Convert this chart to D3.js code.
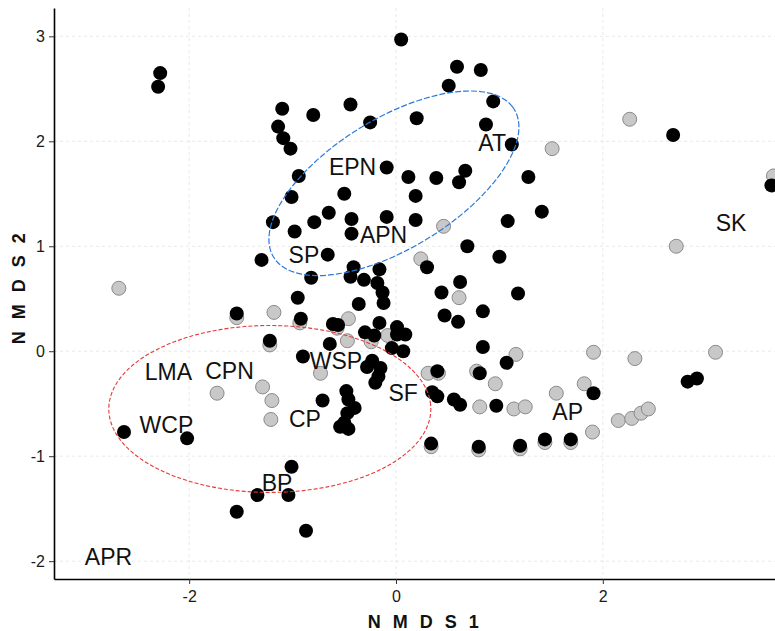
<!DOCTYPE html>
<html>
<head>
<meta charset="utf-8">
<script src="https://d3js.org/d3.v7.min.js"></script>
<style>
  body { margin: 0; background: #fff; }
  svg { display: block; font-family: "Liberation Sans", Arial, sans-serif; }
  .grid line { stroke: #e3e3e3; stroke-width: 0.8; stroke-dasharray: 3,3; }
  .axis-title { font-size: 18px; font-weight: bold; fill: #111; letter-spacing: 3.5px; }
  .site-label { font-size: 23px; fill: #111; }
</style>
</head>
<body>
<div id="chart"></div>
<script>
// NMDS scores, black sites
var blackX = [-2.28,-2.30,0.05,0.59,0.82,0.51,0.94,-1.10,-0.80,-0.44,-0.25,0.20,0.87,-1.14,-1.09,-1.02,1.12,
  -0.09,-0.94,0.12,0.39,0.67,0.61,1.28,-1.01,-0.50,0.19,-1.19,-0.79,-0.65,-0.43,-0.09,0.19,1.08,-0.98,-0.43,
  -0.66,-1.30,0.69,1.00,0.30,-0.41,-0.16,-0.82,-0.44,-0.31,-0.18,-0.13,-0.12,0.62,0.44,1.18,-0.95,-0.36,0.47,
  0.60,0.84,-0.92,-0.61,-0.56,-0.16,-0.30,-0.21,0.01,0.01,0.09,-0.04,0.07,-0.64,-1.22,-0.90,-0.23,-0.28,-0.15,
  -0.17,-0.20,-0.71,-0.48,-0.46,-0.40,-0.47,-0.50,-0.54,-0.46,0.35,0.40,0.56,0.62,0.40,0.84,1.07,0.81,0.97,
  0.34,0.80,1.20,1.44,1.69,-1.01,-1.34,-1.04,-0.87,-2.63,-2.02,-1.54,-1.54,1.41,2.68,3.63,2.82,2.91,1.91];
var blackY = [2.65,2.52,2.97,2.71,2.68,2.53,2.38,2.31,2.25,2.35,2.18,2.22,2.16,2.14,2.03,1.93,1.97,
  1.75,1.67,1.66,1.65,1.72,1.61,1.66,1.47,1.50,1.48,1.23,1.23,1.32,1.26,1.28,1.25,1.24,1.14,1.12,
  0.92,0.87,1.00,0.90,0.80,0.80,0.78,0.70,0.71,0.68,0.65,0.56,0.46,0.66,0.56,0.55,0.51,0.45,0.34,
  0.28,0.38,0.31,0.26,0.25,0.27,0.18,0.15,0.23,0.16,0.16,0.03,0.00,0.07,0.10,-0.05,-0.09,-0.15,-0.16,
  -0.24,-0.30,-0.47,-0.38,-0.46,-0.54,-0.59,-0.68,-0.72,-0.74,-0.39,-0.43,-0.46,-0.51,-0.19,0.04,-0.11,-0.21,-0.52,
  -0.88,-0.91,-0.90,-0.84,-0.84,-1.10,-1.37,-1.37,-1.71,-0.77,-0.83,-1.53,0.36,1.33,2.06,1.58,-0.29,-0.26,-0.40];

// NMDS scores, grey sites
var greyX = [-2.68,-1.54,-1.22,-1.73,-1.29,-1.20,-1.21,-1.18,-0.93,-0.46,-0.57,-0.24,-0.08,-0.47,-0.73,
  0.46,0.24,0.61,0.31,0.41,0.78,1.16,0.96,0.81,1.14,1.25,0.34,0.80,1.20,1.44,1.69,1.90,1.82,1.55,
  2.15,2.28,2.37,2.44,1.91,2.31,3.09,2.71,2.26,1.51,3.65];
var greyY = [0.60,0.32,0.06,-0.40,-0.34,-0.47,-0.65,0.37,0.27,0.31,0.22,0.09,0.15,0.10,-0.21,
  1.19,0.88,0.51,-0.21,-0.21,-0.19,-0.03,-0.31,-0.53,-0.55,-0.53,-0.91,-0.94,-0.93,-0.87,-0.87,-0.77,-0.31,-0.40,
  -0.66,-0.64,-0.59,-0.55,-0.01,-0.07,-0.01,1.00,2.21,1.93,1.67];

// site labels
var labelNames = ["AT","EPN","APN","SP","SK","LMA","CPN","WSP","SF","CP","AP","WCP","BP","APR"];
var labelX = [0.93,-0.42,-0.12,-0.89,3.24,-2.20,-1.61,-0.58,0.07,-0.88,1.66,-2.22,-1.15,-2.78];
var labelY = [1.99,1.76,1.11,0.92,1.22,-0.20,-0.19,-0.09,-0.40,-0.64,-0.58,-0.70,-1.25,-1.96];

// ellipses: centre x, centre y, semi-axis a, semi-axis b, angle (deg)
var blueEllipse = [-0.02, 1.60, 1.36, 0.62, 31];
var redEllipse = [-1.22, -0.55, 1.557, 0.795, 0];

var xTicks = [-2, 0, 2];
var yTicks = [-2, -1, 0, 1, 2, 3];

var W = 775, H = 631;
var pLeft = 54, pRight = 790, pTop = 8, pBottom = 579;

var x = d3.scaleLinear().domain([-3.307, 3.81]).range([pLeft, pRight]);
var y = d3.scaleLinear().domain([-2.17, 3.27]).range([pBottom, pTop]);

var svg = d3.select("#chart").append("svg")
  .attr("width", W)
  .attr("height", H);

// grid
var grid = svg.append("g").attr("class", "grid");
grid.selectAll("line.gx").data(xTicks).enter().append("line")
  .attr("x1", d => x(d)).attr("x2", d => x(d))
  .attr("y1", pTop).attr("y2", pBottom);
grid.selectAll("line.gy").data(yTicks).enter().append("line")
  .attr("x1", pLeft).attr("x2", pRight)
  .attr("y1", d => y(d)).attr("y2", d => y(d));

// points: grey first, black on top
var grey = d3.range(greyX.length).map(i => [greyX[i], greyY[i]]);
var black = d3.range(blackX.length).map(i => [blackX[i], blackY[i]]);

svg.append("g").selectAll("circle").data(grey).enter().append("circle")
  .attr("cx", d => x(d[0])).attr("cy", d => y(d[1])).attr("r", 7)
  .attr("fill", "#c8c8c8").attr("stroke", "#8a8a8a").attr("stroke-width", 1);

svg.append("g").selectAll("circle").data(black).enter().append("circle")
  .attr("cx", d => x(d[0])).attr("cy", d => y(d[1])).attr("r", 7)
  .attr("fill", "#000");

// ellipses
function ellipsePath(e) {
  var th = e[4] * Math.PI / 180;
  var pts = d3.range(0, 360, 3).map(function(deg) {
    var t = deg * Math.PI / 180;
    var u = e[2] * Math.cos(t), v = e[3] * Math.sin(t);
    return [e[0] + u * Math.cos(th) - v * Math.sin(th), e[1] + u * Math.sin(th) + v * Math.cos(th)];
  });
  return d3.line().x(d => x(d[0])).y(d => y(d[1])).curve(d3.curveCatmullRomClosed)(pts);
}

svg.append("path").attr("d", ellipsePath(blueEllipse))
  .attr("fill", "none").attr("stroke", "#2b79d9").attr("stroke-width", 1.2)
  .attr("stroke-dasharray", "6,2");
svg.append("path").attr("d", ellipsePath(redEllipse))
  .attr("fill", "none").attr("stroke", "#e8383a").attr("stroke-width", 1.1)
  .attr("stroke-dasharray", "4,2");

// labels
svg.append("g").selectAll("text").data(labelNames).enter().append("text")
  .attr("class", "site-label")
  .attr("x", (d, i) => x(labelX[i]))
  .attr("y", (d, i) => y(labelY[i]) + 8.2)
  .attr("text-anchor", "middle")
  .text(d => d);

// axes
var gx = svg.append("g").attr("transform", "translate(0," + pBottom + ")")
  .call(d3.axisBottom(x).tickValues(xTicks).tickSize(5).tickSizeOuter(0).tickPadding(7).tickFormat(d3.format("d")));
var gy = svg.append("g").attr("transform", "translate(" + pLeft + ",0)")
  .call(d3.axisLeft(y).tickValues(yTicks).tickSize(5).tickSizeOuter(0).tickPadding(4).tickFormat(d3.format("d")));

[gx, gy].forEach(function(g) {
  g.attr("font-size", 16).attr("font-family", null);
  g.select(".domain").attr("stroke", "#000").attr("stroke-width", 1.6);
  g.selectAll(".tick line").attr("stroke", "#333").attr("stroke-width", 1);
  g.selectAll(".tick text").attr("fill", "#1a1a1a")
    .text(d => d < 0 ? "-" + Math.abs(d) : d);
});

svg.append("text").attr("class", "axis-title")
  .attr("x", 425).attr("y", 628).attr("text-anchor", "middle")
  .text("N M D S 1");
svg.append("text").attr("class", "axis-title")
  .attr("transform", "translate(25,287) rotate(-90)").attr("text-anchor", "middle")
  .text("N M D S 2");
</script>
</body>
</html>
